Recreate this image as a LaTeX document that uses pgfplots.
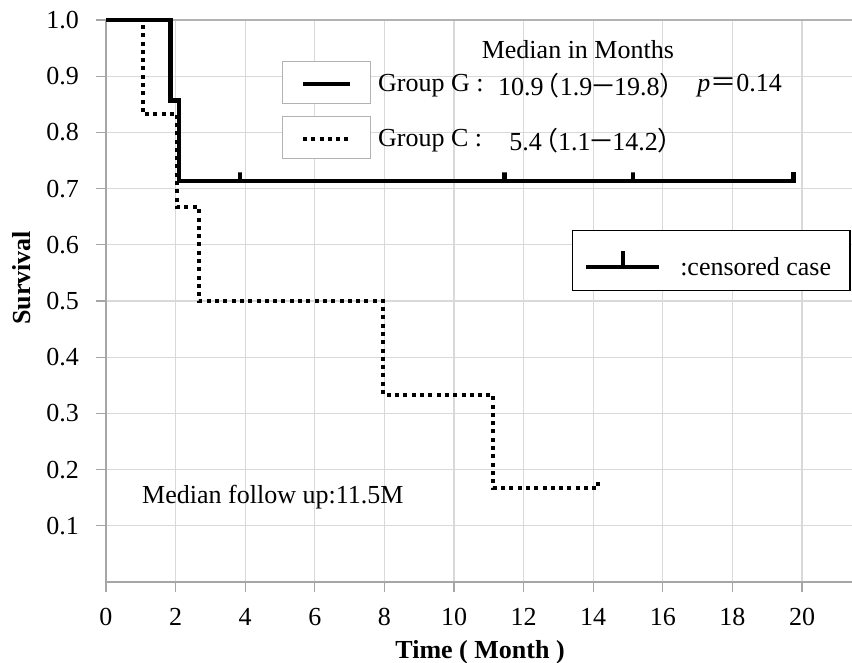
\documentclass[border=0pt]{standalone}
\usepackage{fontspec}
\setmainfont{Liberation Serif}
\newfontfamily\cjk{Noto Sans CJK JP}
\newcommand{\lp}{\kern-0.38em{\cjk （}}
\newcommand{\rp}{{\cjk ）}\kern-0.38em}
\newcommand{\dsh}{\kern-0.08em{\cjk －}\kern-0.08em}
\usepackage{pgfplots}
\pgfplotsset{compat=1.18}
\begin{document}
\begin{tikzpicture}[font=\fontsize{13}{15}\selectfont]
\begin{axis}[
  x=17.4pt, y=281pt,
  xmin=0, xmax=21.43, ymin=0, ymax=1,
  axis lines=left,
  axis line style={draw=gray!70, line width=0.6pt, -},
  xtick={0,2,4,6,8,10,12,14,16,18,20},
  ytick={0.1,0.2,0.3,0.4,0.5,0.6,0.7,0.8,0.9,1.0},
  grid=major, grid style={draw=gray!30, line width=0.6pt},
  tick align=outside, major tick length=5pt,
  tick style={draw=gray!70, line width=0.6pt},
  /pgf/number format/assume math mode=true,
  yticklabel style={/pgf/number format/fixed, /pgf/number format/fixed zerofill, /pgf/number format/precision=1, xshift=-5pt},
  xticklabel style={yshift=-4.5pt},
  xlabel={\bfseries Time ( Month )},
  xlabel style={at={(rel axis cs:0.5016,-0.1246)}, anchor=center},
  ylabel={\bfseries Survival},
  ylabel style={at={(rel axis cs:-0.1125,0.541)}, anchor=center},
  clip=false,
]
\coordinate (O) at (axis cs:0,0);
\draw[gray!60, line width=0.7pt] (axis cs:0,1) -- (axis cs:21.43,1);
% Group C (dotted)
\addplot[black, line width=2pt, dash pattern=on 2pt off 2.15pt] coordinates {
(0,1) (1.05,1) (1.05,0.833) (2.05,0.833) (2.05,0.667) (2.67,0.667) (2.67,0.5)
(7.97,0.5) (7.97,0.333) (11.13,0.333) (11.13,0.167) (14.15,0.167) (14.15,0.18)
};
% Group G (solid)
\addplot[black, line width=2.2pt] coordinates {
(0,1) (1.85,1) (1.85,0.857) (2.1,0.857) (2.1,0.714)
(3.85,0.714) (3.85,0.729) (3.85,0.714)
(11.45,0.714) (11.45,0.729) (11.45,0.714)
(15.15,0.714) (15.15,0.729) (15.15,0.714)
(19.75,0.714) (19.75,0.729)
};
% legend boxes
\draw[gray!60, line width=0.6pt, fill=white] (axis cs:5.08,0.852) rectangle (axis cs:7.59,0.926);
\draw[gray!60, line width=0.6pt, fill=white] (axis cs:5.08,0.754) rectangle (axis cs:7.59,0.828);
\draw[black, line width=2.2pt] (axis cs:5.66,0.886) -- (axis cs:7.01,0.886);
\draw[black, line width=2pt, dash pattern=on 2pt off 2.15pt] (axis cs:5.66,0.788) -- (axis cs:7.01,0.788);
\node at (axis cs:13.56,0.947) {Median in Months};
\node[anchor=west, inner sep=0pt] at (axis cs:7.81,0.884) {Group G :};
\node[anchor=west, inner sep=0pt] at (axis cs:11.26,0.884) {10.9\lp 1.9\dsh 19.8\rp};
\node[anchor=west, inner sep=0pt] at (axis cs:16.98,0.884) {\textit{p}{\cjk ＝}0.14};
\node[anchor=west, inner sep=0pt] at (axis cs:7.81,0.786) {Group C :};
\node[anchor=west, inner sep=0pt] at (axis cs:11.58,0.786) {5.4\lp 1.1\dsh 14.2\rp};
% censored legend
\draw[black, line width=0.6pt, fill=white] (axis cs:13.41,0.518) rectangle (axis cs:21.38,0.626);
\draw[black, line width=2.2pt] (axis cs:13.79,0.561) -- (axis cs:15.89,0.561);
\draw[black, line width=2.2pt] (axis cs:14.85,0.561) -- (axis cs:14.85,0.589);
\node[anchor=west, inner sep=0pt] at (axis cs:16.49,0.561) {:censored case};
\node[anchor=west, inner sep=0pt] at (axis cs:1.03,0.151) {Median follow up:11.5M};
\end{axis}
\pgfresetboundingbox
\path[use as bounding box] (O) ++(-53pt,-40.5pt) rectangle ++(426pt,331.5pt);
\end{tikzpicture}
\end{document}
